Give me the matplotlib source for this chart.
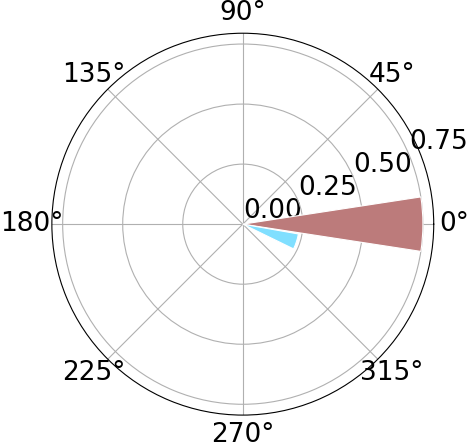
import numpy as np
import matplotlib
matplotlib.use("Agg")
import matplotlib.pyplot as plt

# bar data (angles in degrees, radius in data units)
theta_deg = [0.0, -18.0]
widths_deg = [17.4, 16.0]
radii = [0.75, 0.235]
colors = ["#bc7b7b", "#80dfff"]

rticks = [0.0, 0.25, 0.50, 0.75]


def main():
    fig = plt.figure(figsize=(4.71, 4.43), dpi=100)
    ax = fig.add_axes([0.110, 0.063, 0.811, 0.862], projection="polar")

    ax.bar(np.deg2rad(theta_deg), radii, width=np.deg2rad(widths_deg),
           color=colors, edgecolor="white", linewidth=0.8, zorder=2)

    ax.set_rlim(0, 0.795)
    ax.set_rticks(rticks)
    ax.set_yticklabels([f"{t:.2f}" for t in rticks])
    ax.tick_params(labelsize=19)
    ax.tick_params(axis="x", pad=4)
    ax.grid(True, color="#b0b0b0", linewidth=0.8)
    ax.set_axisbelow(True)

    fig.savefig("out.png", dpi=100)


if __name__ == "__main__":
    main()
